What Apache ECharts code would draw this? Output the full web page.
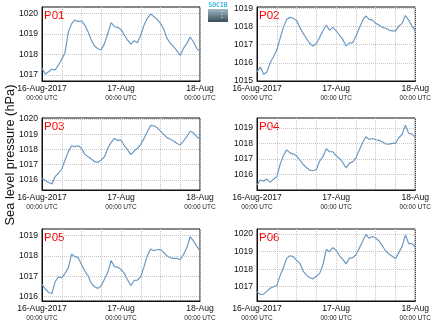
<!DOCTYPE html>
<html><head><meta charset="utf-8">
<script src="https://cdn.jsdelivr.net/npm/echarts@6/dist/echarts.min.js"></script>
<style>html,body{margin:0;padding:0;background:#fff}#c{width:434px;height:327px}</style>
</head><body><div id="c"></div>
<script>
// Hours since 16-Aug-2017 00:00 UTC
const hours = [0,1,2,3,4,5,6,7,8,9,10,11,12,13,14,15,16,17,18,19,20,21,22,23,24,25,26,27,28,29,30,31,32,33,34,35,36,37,38,39,40,41,42,43,44,45,46,47,48];
const stationNames = ['P01','P02','P03','P04','P05','P06'];
const p01 = [1017.33,1017.05,1017.16,1017.28,1017.25,1017.49,1017.76,1018.1,1019.1,1019.5,1019.68,1019.6,1019.63,1019.43,1019.1,1018.7,1018.4,1018.28,1018.22,1018.54,1019.03,1019.55,1019.35,1019.32,1019.22,1018.95,1018.7,1018.5,1018.67,1018.57,1018.95,1019.43,1019.76,1019.97,1019.84,1019.7,1019.51,1019.22,1018.78,1018.54,1018.38,1018.18,1017.95,1018.3,1018.54,1018.85,1018.62,1018.3,1018.14];
const p02 = [1015.5,1015.77,1015.37,1015.5,1016.0,1016.33,1016.7,1017.34,1017.95,1018.39,1018.5,1018.45,1018.32,1017.95,1017.62,1017.34,1017.06,1016.92,1017.06,1017.4,1017.76,1018.08,1017.8,1017.95,1017.76,1017.53,1017.29,1016.92,1017.1,1017.1,1017.47,1017.9,1018.32,1018.58,1018.39,1018.35,1018.17,1018.08,1017.95,1017.9,1017.8,1017.76,1017.76,1018.02,1018.17,1018.6,1018.35,1018.02,1017.76];
const p03 = [1016.11,1015.96,1015.83,1015.74,1016.22,1016.44,1016.72,1017.31,1017.86,1018.25,1018.19,1018.25,1018.08,1017.68,1017.53,1017.38,1017.2,1017.16,1017.31,1017.53,1018.08,1018.47,1018.73,1018.6,1018.62,1018.25,1017.97,1017.66,1017.9,1018.08,1018.34,1018.73,1019.17,1019.58,1019.56,1019.43,1019.21,1018.99,1018.78,1018.67,1018.56,1018.4,1018.3,1018.56,1018.84,1019.2,1019.1,1018.84,1018.69];
const p04 = [1015.31,1015.64,1015.57,1015.7,1015.49,1015.7,1015.85,1016.64,1017.2,1017.58,1017.39,1017.31,1017.2,1016.92,1016.64,1016.43,1016.28,1016.24,1016.32,1016.86,1017.14,1017.65,1017.46,1017.46,1017.2,1017.03,1016.77,1016.42,1016.71,1016.81,1017.07,1017.56,1018.04,1018.42,1018.25,1018.31,1018.23,1018.19,1018.1,1017.97,1017.95,1018.0,1018.0,1018.36,1018.57,1019.17,1018.64,1018.59,1018.38];
const p05 = [1016.61,1016.38,1016.21,1016.16,1016.74,1016.98,1016.93,1017.15,1017.43,1018.1,1017.97,1017.92,1017.59,1017.26,1017.03,1016.66,1016.49,1016.41,1016.54,1016.87,1017.2,1017.78,1017.48,1017.46,1017.34,1017.15,1016.82,1016.55,1016.8,1016.82,1016.98,1017.48,1018.02,1018.35,1018.26,1018.31,1018.33,1018.18,1018.0,1017.92,1017.89,1017.89,1017.82,1018.08,1018.41,1018.95,1018.75,1018.49,1018.25];
const p06 = [1016.72,1016.56,1016.58,1016.75,1016.91,1017.0,1017.06,1017.63,1018.08,1018.61,1018.76,1018.71,1018.5,1018.33,1017.89,1017.66,1017.51,1017.45,1017.59,1017.76,1018.23,1019.12,1018.99,1019.22,1019.07,1018.77,1018.56,1018.3,1018.61,1018.65,1018.82,1019.18,1019.56,1019.97,1019.75,1019.85,1019.77,1019.6,1019.34,1019.03,1018.86,1018.73,1018.6,1018.94,1019.28,1019.95,1019.45,1019.45,1019.24];
const seriesValues = [p01,p02,p03,p04,p05,p06];
// y-axis ranges and tick labels per panel
const yMins = [1016.71,1015.0,1015.34,1015.0,1015.79,1016.19];
const yMaxs = [1020.31,1019.07,1020.07,1019.63,1019.33,1020.28];
const yTicks = [[1017,1018,1019,1020],[1015,1016,1017,1018,1019],[1016,1017,1018,1019,1020],[1016,1017,1018,1019],[1016,1017,1018,1019],[1017,1018,1019,1020]];
// x tick labels
const xTickHours = [0,24,48];
const xTickDates = ['16-Aug-2017','17-Aug','18-Aug'];
const xTickTimes = ['00:00 UTC','00:00 UTC','00:00 UTC'];
const yTitle = 'Sea level pressure (hPa)';

const lefts = [42,257];
const widths = [158,159];
const tops = [7,118,229];
const heights = [74,72,72];

const grids=[],xAxes=[],yAxes=[],series=[],graphics=[];
for(let i=0;i<6;i++){
  const col=i%2,row=Math.floor(i/2);
  grids.push({left:lefts[col],top:tops[row],width:widths[col],height:heights[row],show:true,borderColor:'#111',borderWidth:1,backgroundColor:'transparent'});
  xAxes.push({type:'value',gridIndex:i,min:0,max:48,interval:6,
    axisLine:{show:true,lineStyle:{color:'#111',width:1}},axisTick:{show:false},
    splitLine:{show:true,lineStyle:{color:'#c8c8c8',type:'dotted',width:1}},
    axisLabel:{show:true,margin:3,showMinLabel:true,showMaxLabel:true,color:'#111',
      formatter:function(v){const k=xTickHours.indexOf(v);return k<0?'':'{a|'+xTickDates[k]+'}\n{b|'+xTickTimes[k]+'}';},
      rich:{a:{fontSize:8.6,fontFamily:'Liberation Sans, Arial',lineHeight:10,color:'#111'},b:{fontSize:6.5,fontFamily:'Liberation Sans, Arial',lineHeight:9,color:'#222'}}}});
  yAxes.push({type:'value',gridIndex:i,min:yMins[i],max:yMaxs[i],
    axisLine:{show:true,lineStyle:{color:'#111'}},
    axisTick:{show:false,customValues:yTicks[i]},
    splitLine:{show:true,lineStyle:{color:'#c8c8c8',type:'dotted',width:1}},
    axisLabel:{customValues:yTicks[i],margin:4,fontSize:8.6,fontFamily:'Liberation Sans, Arial',color:'#111',formatter:function(v){return String(Math.round(v));}}});
  series.push({type:'line',xAxisIndex:i,yAxisIndex:i,showSymbol:false,symbol:'none',
    data:hours.map((h,j)=>[h,seriesValues[i][j]]),
    lineStyle:{color:'#6d9ac4',width:1.2},smooth:false,animation:false});
  graphics.push({type:'text',left:lefts[col]+2,top:tops[row]+3,style:{text:stationNames[i],fill:'#ff0000',fontSize:11.5,fontFamily:'Liberation Sans, Arial'}});
}
graphics.push({type:'text',x:10,y:155,rotation:Math.PI/2,style:{text:yTitle,fill:'#111',fontSize:12.8,fontFamily:'Liberation Sans, Arial',align:'center',verticalAlign:'middle'}});
// logo
graphics.push({type:'rect',shape:{x:208,y:9,width:20,height:13},style:{fill:new echarts.graphic.LinearGradient(0,0,0,1,[{offset:0,color:'#9fb9c6'},{offset:1,color:'#3b4c5a'}])}});
graphics.push({type:'text',x:218,y:5.5,style:{text:'SOCIB',fill:'#39b8d8',fontSize:6.5,fontWeight:'bold',fontFamily:'DejaVu Sans Mono, monospace',align:'center',verticalAlign:'middle'}});
graphics.push({type:'rect',shape:{x:221.5,y:11,width:1,height:1},style:{fill:'#fff'}});
graphics.push({type:'rect',shape:{x:221.5,y:14,width:1,height:1},style:{fill:'#fff'}});
graphics.push({type:'rect',shape:{x:221.5,y:17,width:1,height:1},style:{fill:'#fff'}});

const chart=echarts.init(document.getElementById('c'),null,{renderer:'canvas'});
chart.setOption({animation:false,backgroundColor:'#fff',grid:grids,xAxis:xAxes,yAxis:yAxes,series:series,graphic:graphics});
</script></body></html>
